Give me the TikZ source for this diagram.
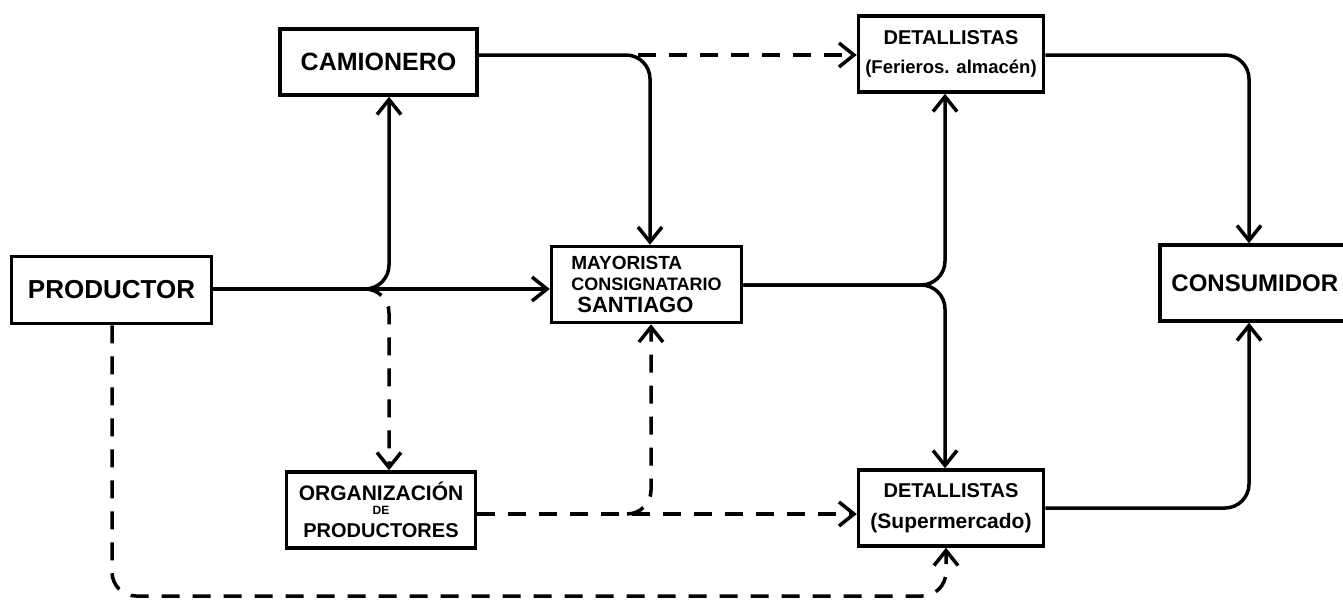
\documentclass[tikz,border=0pt]{standalone}
\usepackage{fontspec}
\setmainfont{Liberation Sans}
\usetikzlibrary{arrows.meta}
\newcommand{\fsz}[1]{\fontsize{#1}{#1}\selectfont}
\begin{document}
\begin{tikzpicture}[x=1pt,y=-1pt,
  box/.style={draw, line width=3.5pt, inner sep=0pt, align=center, font=\bfseries},
  lane/.style={line width=3.5pt},
  link/.style={lane, -{Straight Barb[length=15pt,width=24pt,line width=3.5pt]}},
  dashline/.style={dash pattern=on 18pt off 13pt},
  curvy/.style={rounded corners=24pt}]
\useasboundingbox (0,0) rectangle (1343,600);

% agents of the chain
\node[box, minimum width=197pt, minimum height=66pt] (cam) at (378.5,62)
  {\fsz{25}CAMIONERO};
\node[box, minimum width=185pt, minimum height=76pt] (det1) at (951,54)
  {\fsz{20}DETALLISTAS\\[14pt]\fsz{18.5}(Ferieros. almacén)};
\node[box, minimum width=200pt, minimum height=67pt] (prod) at (111.5,290)
  {\fsz{26}PRODUCTOR};
\node[box, minimum width=190pt, minimum height=76pt, align=left] (may) at (646.5,284.5)
  {\fsz{19}MAYORISTA\\[7pt]\fsz{18}CONSIGNATARIO\\[6pt]\hspace*{6pt}\fsz{22}SANTIAGO};
\node[box, minimum width=200pt, minimum height=76pt, anchor=west] (cons) at (1158,283)
  {\fsz{24}CONSUMIDOR\hspace*{10pt}};
\node[box, minimum width=189pt, minimum height=76pt] (org) at (381,510)
  {\fsz{21}ORGANIZACIÓN\\[2pt]\fsz{12}DE\\[8pt]\fsz{20}PRODUCTORES};
\node[box, minimum width=185pt, minimum height=76pt] (det2) at (951,508)
  {\fsz{20}DETALLISTAS\\[15pt]\fsz{21}(Supermercado)};

% branching points of the flows
\coordinate (ja) at (389,289);
\coordinate (jb) at (650,55);
\coordinate (jc) at (945,285);
\coordinate (jd) at (1249,55);
\coordinate (je) at (1249,508);
\coordinate (jf) at (651,514);
\coordinate (jg) at (112,596);
\coordinate (jh) at (946,596);

% productor
\draw[link] (prod.east |- ja) -- (ja -| may.west);
\draw[link, curvy] (prod.east |- ja) -- (ja) -- (ja |- cam.south);
\draw[link, dashline, curvy] ([xshift=-24pt]ja) -- (ja) -- (ja |- org.north);
\draw[link, dashline, curvy] (prod.south -| jg) -- (jg) -- (jh) -- (jh |- det2.south);

% camionero
\draw[link, curvy] (cam.east |- jb) -- (jb) -- (jb |- may.north);
\draw[link, dashline] ([xshift=-12pt]jb) -- (jb -| det1.west);

% mayorista
\draw[link, curvy] (may.east |- jc) -- (jc) -- (jc |- det1.south);
\draw[link, curvy] (may.east |- jc) -- (jc) -- (jc |- det2.north);

% detallistas to consumidor
\draw[link, curvy] (det1.east |- jd) -- (jd) -- (jd |- cons.north);
\draw[link, curvy] (det2.east |- je) -- (je) -- (je |- cons.south);

% organizacion de productores
\draw[link, dashline] (org.east |- jf) -- (jf -| det2.west);
\draw[link, dashline, curvy] ([xshift=-24pt]jf) -- (jf) -- (jf |- may.south);
\end{tikzpicture}
\end{document}
